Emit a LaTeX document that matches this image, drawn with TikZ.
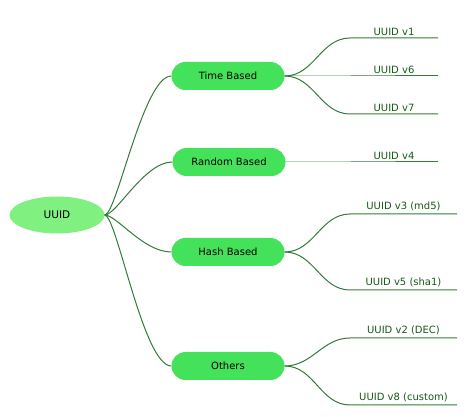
\documentclass[tikz,border=0pt]{standalone}
\usepackage{fontspec}
\setmainfont{DejaVu Sans}
\usetikzlibrary{shapes.geometric,calc}
\definecolor{rootgreen}{RGB}{128,240,128}
\definecolor{boxgreen}{RGB}{68,226,90}
\definecolor{linegreen}{RGB}{52,122,56}
\definecolor{leafgreen}{RGB}{20,90,20}
\begin{document}
\begin{tikzpicture}[x=1pt,y=-1pt,
  rootnode/.style={ellipse,fill=rootgreen,minimum width=95,minimum height=37,inner sep=0pt,font=\fontsize{10.5}{12}\selectfont},
  branch/.style={rounded corners=14pt,fill=boxgreen,minimum width=113,minimum height=28,inner sep=0pt,font=\fontsize{10}{12}\selectfont},
  leaf/.style={above,inner sep=2.5pt,text=leafgreen,font=\fontsize{10}{12}\selectfont},
  edge/.style={draw=linegreen,line width=1pt}]
\useasboundingbox (0,0) rectangle (467,417);

\node[rootnode] (uuid) at (57,215) {UUID};

\node[branch] (time) at (228,76) {Time Based};
\node[branch] (random) at (229,162) {Random Based};
\node[branch] (hash) at (228,252) {Hash Based};
\node[branch] (others) at (228,366) {Others};

\draw[edge] (uuid.east) .. controls +(12,0) and +(-28,0) .. (time.west);
\draw[edge] (uuid.east) .. controls +(12,0) and +(-28,0) .. (random.west);
\draw[edge] (uuid.east) .. controls +(12,0) and +(-28,0) .. (hash.west);
\draw[edge] (uuid.east) .. controls +(12,0) and +(-28,0) .. (others.west);

% leaves: start and end of each underline
\coordinate (v1a) at (350,38);  \coordinate (v1b) at (438,38);
\coordinate (v6a) at (350,76);  \coordinate (v6b) at (438,76);
\coordinate (v7a) at (350,114); \coordinate (v7b) at (438,114);
\coordinate (v4a) at (350,162); \coordinate (v4b) at (438,162);
\coordinate (v3a) at (350,214); \coordinate (v3b) at (457,214);
\coordinate (v5a) at (350,290); \coordinate (v5b) at (457,290);
\coordinate (v2a) at (350,338); \coordinate (v2b) at (457,338);
\coordinate (v8a) at (350,405); \coordinate (v8b) at (457,405);

\draw[edge] (time.east) to[out=0,in=180] (v1a) -- (v1b);
\draw[edge] (time.east) -- (v6a) -- (v6b);
\draw[edge] (time.east) to[out=0,in=180] (v7a) -- (v7b);
\draw[edge] (random.east) -- (v4a) -- (v4b);
\draw[edge] (hash.east) to[out=0,in=180] (v3a) -- (v3b);
\draw[edge] (hash.east) to[out=0,in=180] (v5a) -- (v5b);
\draw[edge] (others.east) to[out=0,in=180] (v2a) -- (v2b);
\draw[edge] (others.east) to[out=0,in=180] (v8a) -- (v8b);

\node[leaf] (v1) at ($(v1a)!0.5!(v1b)$) {UUID v1};
\node[leaf] (v6) at ($(v6a)!0.5!(v6b)$) {UUID v6};
\node[leaf] (v7) at ($(v7a)!0.5!(v7b)$) {UUID v7};
\node[leaf] (v4) at ($(v4a)!0.5!(v4b)$) {UUID v4};
\node[leaf] (v3) at ($(v3a)!0.5!(v3b)$) {UUID v3 (md5)};
\node[leaf] (v5) at ($(v5a)!0.5!(v5b)$) {UUID v5 (sha1)};
\node[leaf] (v2) at ($(v2a)!0.5!(v2b)$) {UUID v2 (DEC)};
\node[leaf] (v8) at ($(v8a)!0.5!(v8b)$) {UUID v8 (custom)};
\end{tikzpicture}
\end{document}
